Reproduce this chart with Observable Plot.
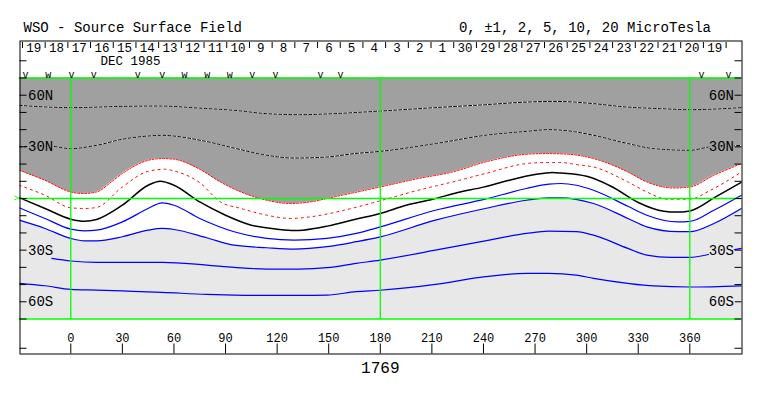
<!DOCTYPE html>
<html><head><meta charset="utf-8">
<script src="https://cdn.jsdelivr.net/npm/d3@7"></script>
<script src="https://cdn.jsdelivr.net/npm/@observablehq/plot@0.6"></script>
<style>
html,body{margin:0;padding:0;background:#fff;}
#chart svg{display:block;}
</style></head><body><div id="chart"></div>
<script>
// ---- texts ----
const title = "WSO - Source Surface Field";
const levelsText = "0, \u00b11, 2, 5, 10, 20 MicroTesla";
const rotation = "1769";
const monthLabel = "DEC 1985";

// ---- header: days of the rotation (right to left in time) ----
const dayLabels = ["19","18","17","16","15","14","13","12","11","10","9","8","7","6","5","4","3","2","1","30","29","28","27","26","25","24","23","22","21","20","19"];
const firstDayBoundaryLon = -28.1;
const degPerDay = 13.2;

// observation markers (longitude, glyph)
const obsLon   = [-26.3, -13.1, 0.4, 13.4, 39.0, 53.2, 66.1, 79.3, 92.5, 105.5, 119.0, 145.2, 156.8, 366.8, 382.5];
const obsGlyph = ["v", "w", "v", "v", "v", "v", "w", "w", "w", "v", "v", "v", "v", "v", "v"];

// ---- axes ----
const lonTicks = [0, 30, 60, 90, 120, 150, 180, 210, 240, 270, 300, 330, 360];
const latTicks = [-70, -60, -50, -40, -30, -20, -10, 0, 10, 20, 30, 40, 50, 60, 70, 80];
const latLabelValues = [60, 30, -30, -60];
const latLabelTexts = ["60N", "30N", "30S", "60S"];
const greenLon = [0, 180, 360];
const greenLat = [-70, 0, 70];

// ---- contours: [longitude, latitude] ----
const pos10 = [[-30,54.1],[0,52.8],[30,53.5],[52,53.7],[75,52.5],[95,51.2],[114,49.3],[133,48.7],[153,49.3],[180,50.8],[212,52.8],[241,54.5],[265,56.0],[280,56.4],[293,56.0],[304,55.1],[324,53.1],[343,52.2],[360,51.6],[390,52.8]];
const pos5 = [[-30,30.0],[-13,30.5],[0,29.0],[15,30.9],[30,34.4],[45,36.3],[52,36.7],[78,33.3],[95,29.3],[114,25.1],[130,23.5],[149,24.1],[165,26.1],[180,27.4],[212,31.9],[241,36.7],[265,39.0],[278,40.0],[293,38.8],[304,36.7],[324,31.9],[339,29.0],[360,28.0],[372,30.0],[390,30.8]];
const pos2 = [[-30,16.4],[-15,10.6],[0,3.8],[7,2.9],[15,3.8],[24,10.0],[30,14.5],[45,22.2],[53,23.2],[60,22.8],[75,17.0],[87,9.6],[99,3.8],[114,-1.0],[128,-2.9],[139,-2.0],[153,0.9],[180,6.7],[202,11.6],[222,15.4],[241,21.2],[265,25.7],[276,26.1],[288,25.8],[304,23.2],[324,15.4],[335,9.6],[351,6.1],[360,6.7],[374,13.5],[390,20.3]];
const pos1 = [[-30,7.7],[-15,1.9],[0,-5.4],[8,-5.8],[15,-5.2],[30,6.7],[45,15.8],[55,17.0],[60,16.0],[75,9.2],[87,-2.0],[99,-5.8],[114,-9.7],[128,-11.6],[139,-10.7],[159,-6.8],[180,-1.3],[202,4.8],[222,9.6],[241,14.5],[265,20.3],[276,20.9],[285,20.9],[294,19.7],[304,18.3],[324,9.6],[335,3.8],[347,-0.4],[360,-0.4],[372,4.8],[390,15.4]];
const zero = [[-30,0.5],[-15,-5.8],[0,-12.0],[8,-13.2],[15,-12.2],[30,-3.9],[45,7.7],[52,10.0],[60,7.7],[75,-2.0],[90,-9.7],[105,-15.5],[120,-17.8],[130,-18.6],[135,-18.4],[150,-15.9],[165,-12.2],[180,-8.7],[195,-3.9],[210,-0.6],[225,3.5],[240,6.6],[255,10.6],[270,13.9],[280,15.1],[285,14.8],[300,12.9],[315,6.7],[330,-2.3],[345,-7.4],[352,-7.9],[360,-7.2],[375,0.9],[390,9.4]];
const neg1 = [[-30,-5.4],[-15,-11.6],[0,-17.8],[8,-18.8],[15,-18.4],[30,-13.6],[45,-5.8],[53,-2.5],[60,-3.9],[75,-11.6],[95,-19.3],[114,-23.2],[130,-24.2],[149,-23.2],[166,-20.3],[180,-16.5],[212,-6.8],[241,-0.4],[265,5.8],[278,8.3],[285,8.7],[294,7.7],[304,4.8],[324,-4.5],[335,-9.7],[353,-13.6],[360,-13.3],[374,-6.8],[390,1.9]];
const neg2 = [[-30,-12.6],[-15,-17.4],[0,-23.2],[8,-24.6],[15,-24.6],[30,-22.2],[45,-18.4],[53,-17.4],[60,-18.0],[79,-22.8],[95,-27.1],[114,-28.6],[130,-29.4],[149,-28.0],[166,-25.1],[180,-22.3],[212,-12.6],[241,-5.8],[265,-1.0],[278,0.4],[285,0.4],[304,-2.9],[324,-11.6],[335,-16.5],[353,-19.3],[360,-19.3],[374,-14.5],[390,-5.8]];
const neg5 = [[-11,-34.8],[0,-36.3],[15,-37.1],[30,-37.1],[53,-37.1],[79,-38.7],[95,-40.0],[114,-41.0],[133,-41.0],[149,-40.2],[166,-37.7],[180,-35.8],[212,-30.0],[241,-24.6],[265,-20.3],[278,-19.0],[294,-19.3],[304,-21.3],[324,-29.0],[335,-32.9],[349,-34.2],[360,-34.2],[374,-31.9],[390,-29.0]];
const neg10 = [[-30,-49.3],[-15,-50.7],[0,-52.8],[15,-53.2],[30,-53.7],[53,-54.5],[79,-55.7],[95,-56.1],[114,-56.3],[133,-56.3],[149,-56.1],[166,-54.1],[180,-53.3],[212,-49.9],[241,-45.4],[265,-43.5],[278,-43.5],[294,-44.5],[304,-46.4],[324,-49.3],[339,-50.8],[360,-51.4],[390,-50.7]];

// ---- build tables ----
const rows = a => a.map(([lon, lat]) => ({lon, lat}));
const dayBounds = d3.range(dayLabels.length + 1).map(i => firstDayBoundaryLon + i * degPerDay);
const days = dayLabels.map((t, i) => ({t, lon: firstDayBoundaryLon + (i + 0.5) * degPerDay}));
const obs = obsLon.map((lon, i) => ({lon, g: obsGlyph[i]}));
const latLabels = latLabelValues.map((lat, i) => ({lat, t: latLabelTexts[i]}));

const FONT = "Liberation Mono, DejaVu Sans Mono, monospace";
const DARK = "#a0a0a0", LIGHT = "#e8e8e8", GREEN = "#00ff00";
const CURVE = "monotone-x";

const W = 763, H = 396;
const mL = 19.5, mR = 21.5, mT = 40.5, mB = 42.5;
const frameW = W - mL - mR, frameH = H - mT - mB;

const dashed = (data) => [
  Plot.line(rows(data), {x: "lon", y: "lat", stroke: "white", strokeWidth: 1, curve: CURVE, clip: true}),
  Plot.line(rows(data), {x: "lon", y: "lat", stroke: "black", strokeWidth: 1, strokeDasharray: "3,2", curve: CURVE, clip: true})
];
const txt = {fontFamily: FONT, fill: "black", lineAnchor: "middle"};

const chart = Plot.plot({
  width: W, height: H,
  marginLeft: mL, marginRight: mR, marginTop: mT, marginBottom: mB,
  x: {domain: [-30, 390], range: [18.7, 740.9], axis: null},
  y: {domain: [-70, 70], range: [318.5, 77.5], axis: null},
  style: {fontFamily: FONT, background: "white", overflow: "visible"},
  marks: [
    // polarity shading
    Plot.areaY(rows(pos2), {x: "lon", y1: () => 70, y2: "lat", fill: DARK, curve: CURVE, clip: true}),
    Plot.areaY(rows(neg2), {x: "lon", y1: "lat", y2: () => -70, fill: LIGHT, curve: CURVE, clip: true}),
    // contours
    ...dashed(pos10),
    ...dashed(pos5),
    Plot.line(rows(pos2), {x: "lon", y: "lat", stroke: "red", strokeWidth: 1, strokeDasharray: "2,1.5", curve: CURVE, clip: true}),
    Plot.line(rows(pos1), {x: "lon", y: "lat", stroke: "red", strokeWidth: 1, strokeDasharray: "2,4", curve: CURVE, clip: true}),
    Plot.line(rows(zero), {x: "lon", y: "lat", stroke: "black", strokeWidth: 1.5, curve: CURVE, clip: true}),
    Plot.line(rows(neg1), {x: "lon", y: "lat", stroke: "blue", strokeWidth: 1.2, curve: CURVE, clip: true}),
    Plot.line(rows(neg2), {x: "lon", y: "lat", stroke: "blue", strokeWidth: 1.2, curve: CURVE, clip: true}),
    Plot.line(rows(neg5), {x: "lon", y: "lat", stroke: "blue", strokeWidth: 1.2, curve: CURVE, clip: true}),
    Plot.line(rows(neg10), {x: "lon", y: "lat", stroke: "blue", strokeWidth: 1.2, curve: CURVE, clip: true}),
    // green reference grid
    Plot.ruleX(greenLon, {x: d => d, y1: -70, y2: 70, stroke: GREEN, strokeWidth: 1.3}),
    Plot.ruleY(greenLat, {y: d => d, x1: -30, x2: 390, stroke: GREEN, strokeWidth: 1.3}),
    Plot.text([">"], {...txt, frameAnchor: "left", y: () => 0, dx: -1, textAnchor: "end", fill: GREEN, fontSize: 9}),
    // latitude ticks on both sides
    Plot.ruleY(latTicks, {y: d => d, insetRight: frameW - 7, stroke: "black"}),
    Plot.ruleY(latTicks, {y: d => d, insetLeft: frameW - 7, stroke: "black"}),
    // latitude labels
    Plot.text(latLabels, {...txt, y: "lat", text: "t", frameAnchor: "left", dx: 8, textAnchor: "start", fontSize: 14,
      stroke: d => d.lat > 0 ? DARK : LIGHT, strokeWidth: 3}),
    Plot.text(latLabels, {...txt, y: "lat", text: "t", frameAnchor: "right", dx: -8, textAnchor: "end", fontSize: 14,
      stroke: d => d.lat > 0 ? DARK : LIGHT, strokeWidth: 3}),
    // outer frame
    Plot.frame({stroke: "black", strokeWidth: 1}),
    // header: day boundaries and labels
    Plot.ruleX(dayBounds, {x: d => d, insetTop: 1.5, insetBottom: frameH - 7.5, stroke: "black"}),
    Plot.text(days, {...txt, x: "lon", text: "t", frameAnchor: "top", dy: 7, fontSize: 12.5}),
    Plot.text([monthLabel], {...txt, frameAnchor: "top-left", dx: 80.5, dy: 20, textAnchor: "start", fontSize: 12.5}),
    Plot.text(obs, {...txt, x: "lon", text: "g", frameAnchor: "top", dy: 33.5, fontSize: 10}),
    // side tick at bottom border
    Plot.ruleY([-87], {y: d => d, insetRight: frameW - 7, stroke: "black"}),
    Plot.ruleY([-87], {y: d => d, insetLeft: frameW - 7, stroke: "black"}),
    // bottom longitude axis
    Plot.ruleX(lonTicks, {x: d => d, insetTop: frameH - 10, stroke: "black"}),
    Plot.text(lonTicks, {...txt, x: d => d, text: d => String(d), frameAnchor: "bottom", dy: -15.5, fontSize: 12}),
    Plot.text([rotation], {...txt, x: () => 180, frameAnchor: "bottom", dy: 13.5, fontSize: 16}),
    // titles
    Plot.text([title], {...txt, frameAnchor: "top-left", dx: 3.5, dy: -13.5, textAnchor: "start", fontSize: 14}),
    Plot.text([levelsText], {...txt, frameAnchor: "top-right", dx: -31, dy: -13.5, textAnchor: "end", fontSize: 14})
  ]
});
document.getElementById("chart").appendChild(chart);
</script></body></html>
